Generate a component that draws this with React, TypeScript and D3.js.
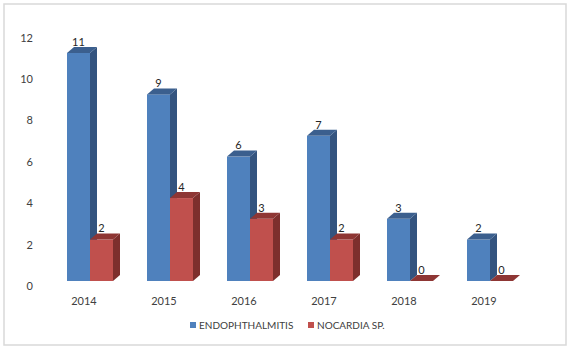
import React from "react";
import * as d3 from "d3";

const categories = ["2014", "2015", "2016", "2017", "2018", "2019"];
const endophthalmitis = [11, 9, 6, 7, 3, 2];
const nocardia = [2, 4, 3, 2, 0, 0];
const yTicks = [0, 2, 4, 6, 8, 10, 12];
const seriesNames = ["ENDOPHTHALMITIS", "NOCARDIA SP."];

const W = 573;
const H = 354;
const FONT = "Lato, 'Open Sans', sans-serif";

const blue = { front: "#4F81BD", side: "#34547F", top: "#3B5F8E" };
const red = { front: "#C0504D", side: "#7D2F2D", top: "#8E3634" };

export default function App() {
  const x = d3.scaleBand<string>().domain(categories).range([44, 524]);
  const y = d3.scaleLinear().domain([0, 12]).range([281, 32.2]);
  const dx = 7;
  const dy = -6;
  const bw = 23;

  const bar = (x0: number, v: number, c: typeof blue, key: string) => {
    const yt = y(v);
    const yb = y(0);
    const x1 = x0 + bw;
    const top = `M${x0},${yt} L${x0 + dx},${yt + dy} L${x1 + dx},${yt + dy} L${x1},${yt} Z`;
    const side = `M${x1},${yt} L${x1 + dx},${yt + dy} L${x1 + dx},${yb + dy} L${x1},${yb} Z`;
    return (
      <g key={key}>
        {v > 0 && <path d={side} fill={c.side} />}
        {v > 0 && <rect x={x0} y={yt} width={bw} height={yb - yt} fill={c.front} />}
        <path d={top} fill={c.top} />
      </g>
    );
  };

  return (
    <svg width={W} height={H} style={{ position: "absolute", left: 0, top: 0, background: "#fff" }}>
      <rect x={4} y={4} width={562} height={341} fill="#fff" stroke="#D9D9D9" strokeWidth={1.5} />
      {yTicks.map((t) => (
        <text key={t} x={33} y={y(t) + 5.5} dy="0.35em" textAnchor="end" fontFamily={FONT} fontSize={11} fill="#404040">
          {t}
        </text>
      ))}
      {categories.map((c, i) => {
        const cx = (x(c) as number) + x.bandwidth() / 2;
        const bx = cx - 17;
        const rx = bx + bw;
        return (
          <g key={c}>
            {bar(bx, endophthalmitis[i], blue, "b")}
            {bar(rx, nocardia[i], red, "r")}
            <text x={bx + bw / 2} y={y(endophthalmitis[i]) - 11} dy="0.35em" textAnchor="middle" fontFamily={FONT} fontSize={11} fill="#262626">
              {endophthalmitis[i]}
            </text>
            <text x={rx + bw / 2} y={y(nocardia[i]) - 11} dy="0.35em" textAnchor="middle" fontFamily={FONT} fontSize={11} fill="#262626">
              {nocardia[i]}
            </text>
            <text x={cx} y={301} dy="0.35em" textAnchor="middle" fontFamily={FONT} fontSize={11} fill="#404040">
              {c}
            </text>
          </g>
        );
      })}
      {seriesNames.map((s, i) => {
        const lx = i === 0 ? 190 : 308;
        return (
          <g key={s}>
            <rect x={lx} y={322} width={6} height={6} fill={i === 0 ? blue.front : red.front} />
            <text x={lx + 9} y={325.5} dy="0.35em" fontFamily={FONT} fontSize={10} fill="#404040">
              {s}
            </text>
          </g>
        );
      })}
    </svg>
  );
}
